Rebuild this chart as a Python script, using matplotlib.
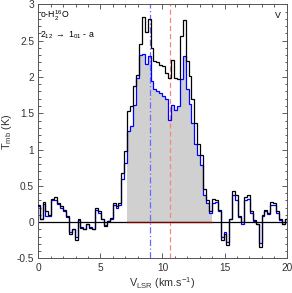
import matplotlib
matplotlib.use('Agg')
import matplotlib.pyplot as plt
import numpy as np
from matplotlib.ticker import MultipleLocator, FormatStrFormatter

plt.rcParams['font.family'] = ['Liberation Sans', 'DejaVu Sans']
plt.rcParams['mathtext.fontset'] = 'custom'
plt.rcParams['mathtext.rm'] = 'Liberation Sans'
plt.rcParams['mathtext.it'] = 'Liberation Sans'

# spectral grid (km/s)
v_first_edge = -0.125
dv = 0.235

# main beam temperature (K), black spectrum
t_black = [0.24, 0.05, 0.28, 0.15, 0.10, 0.32, 0.34, 0.27, 0.22, 0.17,
           0.08, -0.17, -0.10, -0.24, 0.04, -0.08, -0.10, -0.03, -0.08, -0.10,
           0.20, 0.15, 0.04, -0.05, 0.01, 0.06, 0.27, 0.22, 0.27, 0.68,
           0.98, 1.53, 1.60, 1.87, 2.03, 2.45, 2.82, 2.62, 2.80, 2.40,
           2.22, 2.20, 2.17, 2.15, 2.05, 1.98, 2.24, 1.99, 1.97, 2.56,
           2.79, 2.22, 2.01, 1.69, 1.37, 1.07, 0.92, 0.45, 0.30, 0.16,
           0.32, 0.30, 0.17, -0.24, -0.17, -0.32, 0.05, 0.43, 0.37, 0.08,
           0.00, 0.35, 0.37, 0.15, 0.03, -0.03, -0.34, 0.10, 0.17, 0.12,
           0.28, 0.27, 0.15, 0.04, -0.03, 0.05]

# blue spectrum
t_blue = [0.22, 0.05, 0.25, 0.09, 0.08, 0.30, 0.30, 0.25, 0.20, 0.15,
          0.07, -0.14, -0.09, -0.20, 0.03, -0.07, -0.09, -0.03, -0.07, -0.09,
          0.17, 0.13, 0.04, -0.04, 0.01, 0.05, 0.23, 0.19, 0.23, 0.60,
          0.82, 1.25, 1.32, 1.62, 1.99, 2.30, 2.31, 2.18, 2.29, 1.94,
          1.83, 1.80, 1.78, 1.74, 1.69, 1.41, 1.62, 1.55, 1.60, 1.97,
          2.29, 1.83, 1.63, 1.37, 1.07, 0.93, 0.79, 0.38, 0.26, 0.13,
          0.27, 0.28, 0.15, -0.20, -0.14, -0.27, 0.04, 0.38, 0.31, 0.07,
          -0.02, 0.30, 0.32, 0.13, 0.02, -0.03, -0.29, 0.09, 0.15, 0.11,
          0.24, 0.24, 0.13, 0.03, -0.03, 0.05]

# integration window and reference velocities
win_lo, win_hi = 7.16, 13.975
v_blue_ref = 9.0
v_red_ref = 10.6

t_black = np.array(t_black)
t_blue = np.array(t_blue)
edges = v_first_edge + dv * np.arange(len(t_black) + 1)
centers = 0.5 * (edges[:-1] + edges[1:])

fig = plt.figure(figsize=(2.92, 2.93), dpi=100)
ax = fig.add_axes([0.131, 0.118, 0.851, 0.867])

# grey area under blue curve inside the window
inwin = (centers > win_lo) & (centers < win_hi)
ax.stairs(np.where(inwin, t_blue, 0.0), edges, fill=True,
          color='#d0d0d0', linewidth=0, zorder=1)

ax.axhline(0, color='black', lw=0.9, zorder=2)
ax.plot([win_lo, win_hi], [0, 0], color='#7a0000', lw=0.9, zorder=3)

ax.axvline(v_blue_ref, color='#6a6aff', lw=0.9, ls=(0, (5, 2, 1, 2)), zorder=2)
ax.axvline(v_red_ref, color='#ff8080', lw=0.9, ls=(0, (4, 2.5)), zorder=2)

ax.stairs(t_blue, edges, baseline=None, color='#0000ff', lw=0.9, zorder=4)
ax.stairs(t_black, edges, baseline=None, color='black', lw=0.9, zorder=5)

ax.set_xlim(0, 20)
ax.set_ylim(-0.5, 3)
ax.xaxis.set_major_locator(MultipleLocator(5))
ax.xaxis.set_minor_locator(MultipleLocator(1))
ax.yaxis.set_major_locator(MultipleLocator(0.5))
ax.yaxis.set_minor_locator(MultipleLocator(0.1))
ax.yaxis.set_major_formatter(FormatStrFormatter('%g'))
ax.xaxis.set_major_formatter(FormatStrFormatter('%g'))
ax.tick_params(which='both', direction='in', top=True, right=True,
               labelsize=7.3, width=0.6, colors='#444444', labelcolor='#333333')
ax.tick_params(which='major', length=3.5, pad=3)
ax.tick_params(which='minor', length=1.8)
for s in ax.spines.values():
    s.set_linewidth(0.7)
    s.set_color('#555555')

ax.set_xlabel(r'V$_{\rm LSR}$ (km.s$^{-1}$)', fontsize=7.8, labelpad=2, color='#333333')
ax.set_ylabel(r'T$_{\rm mb}$ (K)', fontsize=7.8, labelpad=2, color='#333333')

ax.text(0.12, 2.84, r'o-H$_2^{16}$O', fontsize=6.3, ha='left', va='center')
ax.text(0.12, 2.57, r'2$_{12}$ $\rightarrow$ 1$_{01}$ - a', fontsize=6.3,
        ha='left', va='center')
ax.text(19.05, 2.85, 'V', fontsize=6.3, ha='left', va='center')

fig.savefig('out.png', dpi=100)
